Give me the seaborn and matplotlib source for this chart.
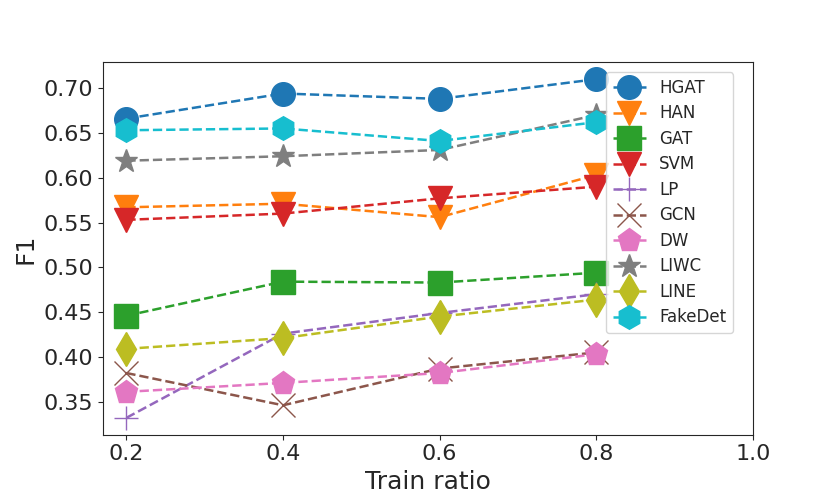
import matplotlib
matplotlib.use('Agg')
import matplotlib.pyplot as plt
import seaborn as sns
import pandas as pd

ratios = [0.2, 0.4, 0.6, 0.8]
methods = ['HGAT', 'HAN', 'GAT', 'SVM', 'LP', 'GCN', 'DW', 'LIWC', 'LINE', 'FakeDet']

hgat = [0.666, 0.694, 0.688, 0.710]
han = [0.567, 0.571, 0.556, 0.603]
gat = [0.446, 0.484, 0.483, 0.494]
svm = [0.553, 0.560, 0.577, 0.590]
lp = [0.332, 0.426, 0.449, 0.470]
gcn = [0.382, 0.346, 0.387, 0.405]
dw = [0.361, 0.371, 0.382, 0.403]
liwc = [0.619, 0.624, 0.631, 0.670]
line = [0.409, 0.421, 0.445, 0.464]
fakedet = [0.653, 0.655, 0.641, 0.662]

scores = [hgat, han, gat, svm, lp, gcn, dw, liwc, line, fakedet]
markers = ['o', 'v', 's', 'v', '+', 'x', 'p', '*', 'd', 'h']

sns.set_style('ticks')
plt.rcParams['font.family'] = ['DejaVu Sans']
colors = sns.color_palette('tab10', 10)

fig, ax = plt.subplots(figsize=(8.3, 4.98), dpi=100)
fig.subplots_adjust(left=0.124, right=0.907, bottom=0.127, top=0.875)

for i, name in enumerate(methods):
    df = pd.DataFrame({'ratio': ratios, 'f1': scores[i]})
    sns.lineplot(data=df, x='ratio', y='f1', ax=ax, color=colors[i], linestyle='--',
                 linewidth=1.8, marker=markers[i], markersize=17, markeredgewidth=1,
                 markeredgecolor=colors[i], label=name)

ax.set_xlim(0.17, 1.0)
ax.set_xticks([0.2, 0.4, 0.6, 0.8, 1.0])
ax.set_yticks([0.35, 0.40, 0.45, 0.50, 0.55, 0.60, 0.65, 0.70])
ax.tick_params(labelsize=16)
ax.set_xlabel('Train ratio', fontsize=18)
ax.set_ylabel('F1', fontsize=18)
ax.legend(loc='upper right', fontsize=12, labelspacing=0.45,
          borderaxespad=0.6, bbox_to_anchor=(0.985, 1.0))

fig.savefig('out.png', dpi=100)
